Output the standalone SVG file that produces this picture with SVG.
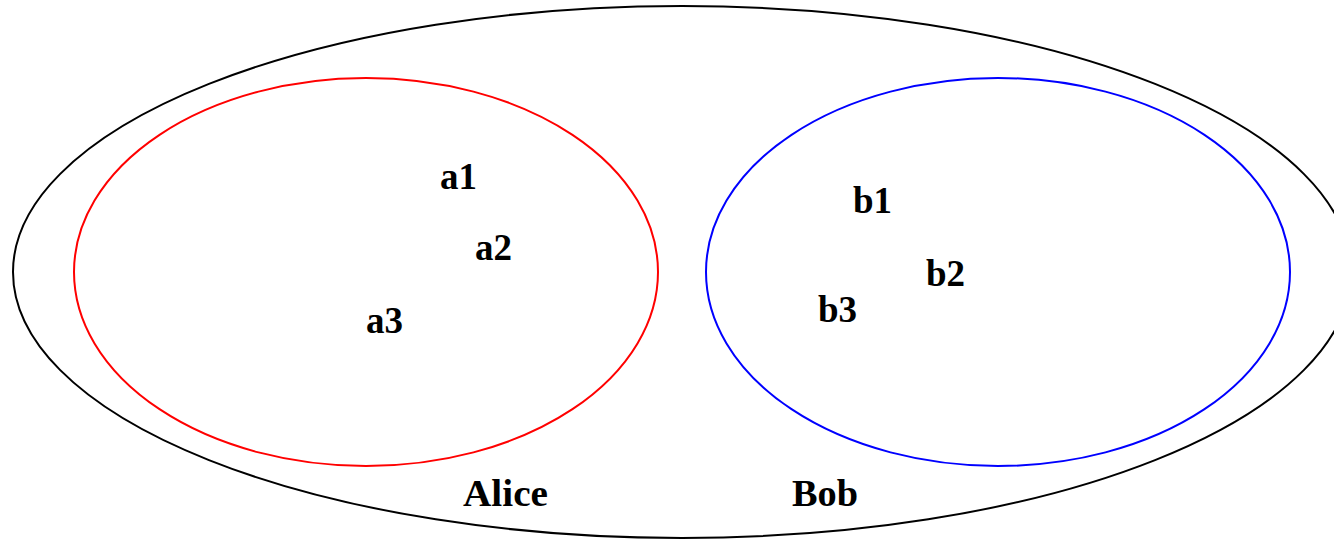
<svg xmlns="http://www.w3.org/2000/svg" width="1334" height="539" viewBox="0 0 1334 539">
<style>
.lbl{font-family:"Liberation Serif","Times New Roman",serif;font-weight:bold;font-size:37px;fill:#000}
ellipse{fill:none;stroke-width:2}
</style>
<rect width="1334" height="539" fill="#fff"/>
<g id="outer"><ellipse cx="682" cy="272" rx="669" ry="266" stroke="#000"/></g>
<g id="alice"><ellipse cx="366" cy="272" rx="292" ry="194" stroke="#f00"/><text class="lbl" x="463" y="506" textLength="85" lengthAdjust="spacingAndGlyphs">Alice</text></g>
<g id="bob"><ellipse cx="998" cy="272" rx="292" ry="194" stroke="#00f"/><text class="lbl" x="792" y="506" textLength="66" lengthAdjust="spacingAndGlyphs">Bob</text></g>
<g id="a1"><text class="lbl" x="440" y="189">a1</text></g>
<g id="a2"><text class="lbl" x="475" y="260">a2</text></g>
<g id="a3"><text class="lbl" x="366" y="333">a3</text></g>
<g id="b1"><text class="lbl" x="853" y="213">b1</text></g>
<g id="b2"><text class="lbl" x="926" y="286">b2</text></g>
<g id="b3"><text class="lbl" x="818" y="322">b3</text></g>
<g id="connectors"></g>
</svg>
